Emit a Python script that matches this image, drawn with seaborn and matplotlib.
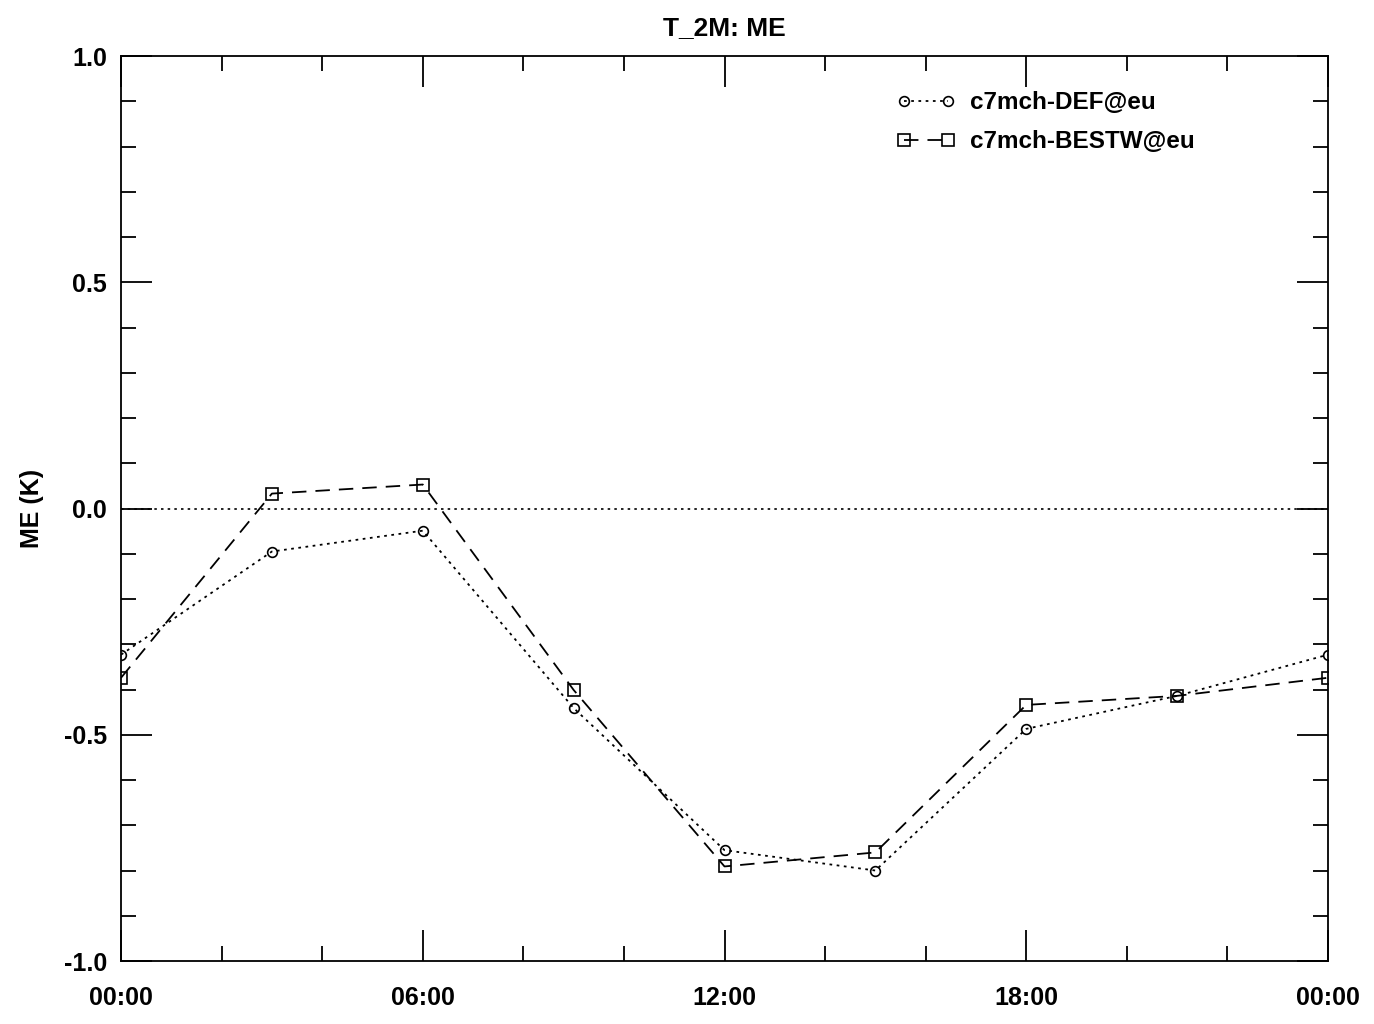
import numpy as np
import pandas as pd
import seaborn as sns
from matplotlib import pyplot as plt
from matplotlib.ticker import MultipleLocator

hours = [0, 3, 6, 9, 12, 15, 18, 21, 24]
me_def = [-0.323, -0.095, -0.049, -0.441, -0.755, -0.800, -0.487, -0.414, -0.323]
me_bestw = [-0.374, 0.033, 0.053, -0.401, -0.791, -0.760, -0.434, -0.414, -0.374]
xtick_pos = [0, 6, 12, 18, 24]
xtick_labels = ["00:00", "06:00", "12:00", "18:00", "00:00"]
ytick_pos = [-1.0, -0.5, 0.0, 0.5, 1.0]

sns.set_style("ticks")
plt.rcParams["font.family"] = ["Liberation Sans", "DejaVu Sans"]
plt.rcParams["font.weight"] = "bold"
plt.rcParams["text.color"] = "black"
plt.rcParams["axes.labelcolor"] = "black"

df = pd.DataFrame({"hour": hours, "def": me_def, "bestw": me_bestw})

fig = plt.figure(figsize=(13.74, 10.24), dpi=100)
ax = fig.add_axes([0.0881, 0.0615, 0.8784, 0.8838])

ax.axhline(0, color="black", linestyle=(0, (1.5, 2.5)), linewidth=1.2, zorder=1)

sns.lineplot(data=df, x="hour", y="def", ax=ax, color="black",
             linestyle=(0, (1.5, 2.5)), linewidth=1.3, marker="o",
             markersize=7, markerfacecolor="none", markeredgecolor="black",
             markeredgewidth=1.2, label="c7mch-DEF@eu")
sns.lineplot(data=df, x="hour", y="bestw", ax=ax, color="black",
             linestyle=(0, (8, 5)), linewidth=1.3, marker="s",
             markersize=9, markerfacecolor="none", markeredgecolor="black",
             markeredgewidth=1.2, label="c7mch-BESTW@eu")

ax.set_xlim(0, 24)
ax.set_ylim(-1.0, 1.0)
ax.set_xticks(xtick_pos)
ax.set_xticklabels(xtick_labels)
ax.set_yticks(ytick_pos)
ax.set_yticklabels([f"{v:.1f}" for v in ytick_pos])
ax.xaxis.set_minor_locator(MultipleLocator(2))
ax.yaxis.set_minor_locator(MultipleLocator(0.1))
ax.tick_params(which="both", direction="in", top=True, right=True,
               width=1.3, labelsize=18, colors="black")
ax.tick_params(which="major", length=22)
ax.tick_params(which="minor", length=11)
ax.tick_params(axis="x", which="major", pad=18)
ax.tick_params(axis="y", which="major", pad=10)
for lab in ax.get_xticklabels() + ax.get_yticklabels():
    lab.set_fontweight("bold")
for s in ax.spines.values():
    s.set_visible(True)
    s.set_linewidth(1.3)
    s.set_color("black")

ax.set_xlabel("")
ax.set_ylabel("ME (K)", fontsize=18, fontweight="bold", labelpad=14)
ax.set_title("T_2M: ME", fontsize=19, fontweight="bold", pad=15, color="black")

ax.legend(loc="upper left", bbox_to_anchor=(0.643, 0.961), frameon=False,
          numpoints=2, handlelength=2.4, handletextpad=0.6,
          borderaxespad=0, borderpad=0, labelspacing=0.65,
          prop={"weight": "bold", "size": 17.5})

fig.savefig("out.png", dpi=100)
